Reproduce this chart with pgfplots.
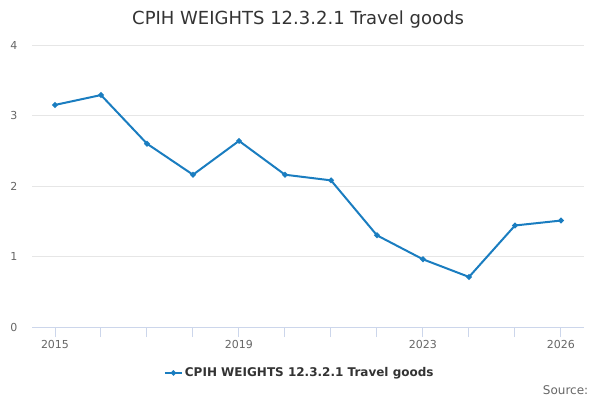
\documentclass[border=0pt]{standalone}
\usepackage{fontspec}
\setmainfont{DejaVu Sans}
\usepackage{pgfplots}
\pgfplotsset{compat=1.18}
\definecolor{lineblue}{HTML}{1A7DC0}
\definecolor{gridgray}{HTML}{E6E6E6}
\definecolor{axisblue}{HTML}{CCD6EB}
\definecolor{ticktext}{HTML}{666666}
\definecolor{titletext}{HTML}{333333}
\begin{document}
\begin{tikzpicture}
\path[use as bounding box] (0pt,0pt) rectangle (600pt,400pt);
\begin{axis}[
  at={(32pt,73pt)}, anchor=south west,
  scale only axis, width=552pt, height=282pt,
  xmin=2014.5, xmax=2026.5, ymin=0, ymax=4,
  axis y line*=left, axis x line*=bottom,
  y axis line style={draw=none},
  x axis line style={draw=axisblue, line width=1pt, -},
  xtick={2015,...,2026},
  xticklabels={2015,,,,2019,,,,2023,,,2026},
  ytick={0,1,2,3,4},
  ymajorgrids, grid style={draw=gridgray, line width=0.8pt},
  xtick style={draw=axisblue, line width=1pt},
  ytick style={draw=none},
  major tick length=10pt,
  tick align=outside,
  xticklabel style={font=\fontsize{11}{13}\selectfont, text=ticktext},
  yticklabel style={font=\fontsize{11}{13}\selectfont, text=ticktext, xshift=-1pt},
  /pgf/number format/assume math mode=true,
  clip=false,
  legend style={at={(axis description cs:0.485,-0.163)}, anchor=center, draw=none,
    font=\fontsize{12}{14}\selectfont\bfseries, text=titletext},
  legend image post style={mark size=1.5pt},
]
\addplot[lineblue, line width=2pt, mark=*, mark size=1.7pt] coordinates {
(2015,3.15) (2016,3.29) (2017,2.60) (2018,2.16) (2019,2.64) (2020,2.16)
(2021,2.08) (2022,1.30) (2023,0.96) (2024,0.71) (2025,1.44) (2026,1.51)};
\addlegendentry{CPIH WEIGHTS 12.3.2.1 Travel goods}
\node[font=\fontsize{18}{21}\selectfont, text=titletext, anchor=center] at (axis description cs:0.482,1.092) {CPIH WEIGHTS 12.3.2.1 Travel goods};
\node[font=\fontsize{12}{14}\selectfont, text=ticktext, anchor=east] at (axis description cs:1.014,-0.225) {Source:};
\end{axis}
\end{tikzpicture}
\end{document}
